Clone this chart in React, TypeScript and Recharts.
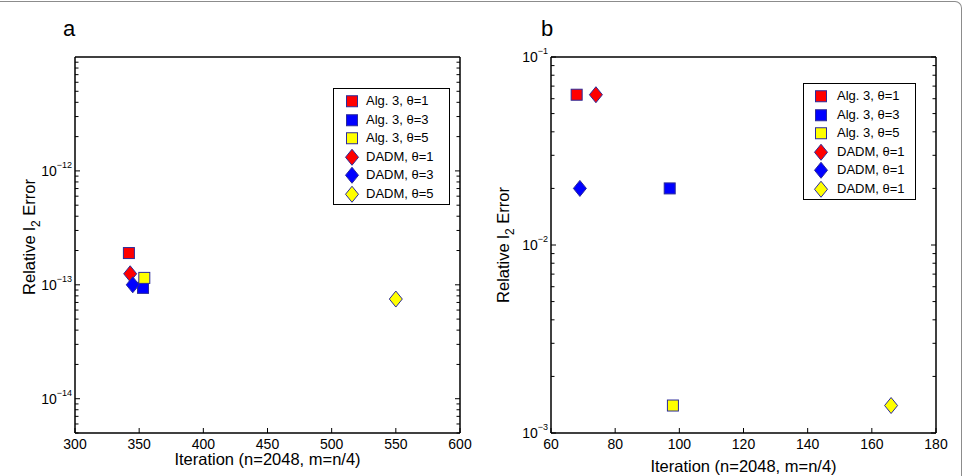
import { ScatterChart, Scatter, XAxis, YAxis, Legend } from 'recharts';

const FONT = '"Liberation Sans", Arial, Helvetica, sans-serif';
const EDGE = '#2b2b9a';

// (a) run lengths and errors
const namesA = ['Alg. 3, θ=1', 'Alg. 3, θ=3', 'Alg. 3, θ=5', 'DADM, θ=1', 'DADM, θ=3', 'DADM, θ=5'];
const iterationsA = [342, 353, 354, 343, 345, 550];
const errorsA = [1.9e-13, 9.4e-14, 1.15e-13, 1.25e-13, 1.0e-13, 7.5e-14];

// (b) run lengths and errors
const namesB = ['Alg. 3, θ=1', 'Alg. 3, θ=3', 'Alg. 3, θ=5', 'DADM, θ=1', 'DADM, θ=1', 'DADM, θ=1'];
const iterationsB = [68, 97, 98, 74, 69, 166];
const errorsB = [0.063, 0.02, 0.0014, 0.063, 0.02, 0.0014];

const fills = ['#ff0000', '#0000ff', '#ffff00', '#ff0000', '#0000ff', '#ffff00'];
const kinds = ['square', 'square', 'square', 'diamond', 'diamond', 'diamond'];

const xTicksA = [300, 350, 400, 450, 500, 550, 600];
const yMajorA = [1e-14, 1e-13, 1e-12];
const yExpA = ['−14', '−13', '−12'];
const xTicksB = [60, 80, 100, 120, 140, 160, 180];
const yMajorB = [1e-3, 1e-2, 1e-1];
const yExpB = ['−3', '−2', '−1'];

// major decades plus 2..9 minor ticks between them
function logTicks(lo: number, hi: number, majors: number[]) {
  const out: number[] = [...majors];
  for (let e = Math.floor(Math.log10(lo)); e < Math.ceil(Math.log10(hi)); e++) {
    for (let k = 2; k <= 9; k++) {
      const v = k * Math.pow(10, e);
      if (v > lo && v < hi) out.push(v);
    }
  }
  return out;
}

const Marker = ({ cx, cy, fill, kind }: any) =>
  kind === 'square' ? (
    <rect x={cx - 5.5} y={cy - 5.5} width={11} height={11} fill={fill} stroke={EDGE} strokeWidth={1} />
  ) : (
    <polygon
      points={`${cx},${cy - 8} ${cx + 6.5},${cy} ${cx},${cy + 8} ${cx - 6.5},${cy}`}
      fill={fill}
      stroke={EDGE}
      strokeWidth={1}
    />
  );

const BottomTick = ({ x, y, payload }: any) => (
  <g>
    <line x1={x} y1={y} x2={x} y2={y - 5} stroke="#000" />
    <text x={x} y={y + 15.5} textAnchor="middle" fontSize={14} fontFamily={FONT} fill="#000">
      {payload.value}
    </text>
  </g>
);

const TopTick = ({ x, y }: any) => <line x1={x} y1={y} x2={x} y2={y + 5} stroke="#000" />;

const makeLeftTick = (majors: number[], exps: string[]) => ({ x, y, payload }: any) => {
  const i = majors.indexOf(payload.value);
  return (
    <g>
      <line x1={x} y1={y} x2={x + (i >= 0 ? 5 : 3.5)} y2={y} stroke="#000" />
      {i >= 0 && (
        <text x={x - 3} y={y + 5} textAnchor="end" fontSize={14} fontFamily={FONT} fill="#000">
          10
          <tspan fontSize={9} dy={-8}>
            {exps[i]}
          </tspan>
        </text>
      )}
    </g>
  );
};

const makeRightTick = (majors: number[]) => ({ x, y, payload }: any) => (
  <line x1={x} y1={y} x2={x - (majors.includes(payload.value) ? 5 : 3.5)} y2={y} stroke="#000" />
);

const makeLegend = (names: string[], markerX: number, textX: number) => () => (
  <div
    style={{
      border: '1.5px solid #000',
      background: '#fff',
      paddingTop: 3,
      paddingBottom: 1,
      fontFamily: FONT,
      fontSize: 13,
      boxSizing: 'border-box',
    }}
  >
    {names.map((name, i) => (
      <div key={i} style={{ position: 'relative', height: 18.5, lineHeight: '18.5px' }}>
        <svg width={16} height={18} style={{ position: 'absolute', left: markerX - 8, top: 0 }}>
          <Marker cx={8} cy={9.25} fill={fills[i]} kind={kinds[i]} />
        </svg>
        <span style={{ position: 'absolute', left: textX, top: 0, whiteSpace: 'nowrap' }}>{name}</span>
      </div>
    ))}
  </div>
);

const yLabel = (cx: number, cy: number) => () => (
  <text
    transform={`translate(${cx},${cy}) rotate(-90)`}
    textAnchor="middle"
    fontSize={16.5}
    fontFamily={FONT}
    fill="#000"
  >
    Relative l
    <tspan fontSize={12} dy={5}>
      2
    </tspan>
    <tspan dy={-5}> Error</tspan>
  </text>
);

const xLabel = (cx: number, baseline: number) => () => (
  <text x={cx} y={baseline} textAnchor="middle" fontSize={16.5} fontFamily={FONT} fill="#000">
    Iteration (n=2048, m=n/4)
  </text>
);

interface PanelProps {
  left: number;
  letter: string;
  names: string[];
  iterations: number[];
  errors: number[];
  xTicks: number[];
  yMajor: number[];
  yExp: string[];
  yDomain: [number, number];
  leftWidth: number;
  rightWidth: number;
  legend: { left: number; top: number; width: number; height: number; markerX: number; textX: number };
  yLabelPos: [number, number];
  xLabelBaseline: number;
}

function Panel(p: PanelProps) {
  const yTicks = logTicks(p.yDomain[0], p.yDomain[1], p.yMajor);
  const xDomain: [number, number] = [p.xTicks[0], p.xTicks[p.xTicks.length - 1]];
  const axisLine = { stroke: '#000', strokeWidth: 1.5 };
  const plotW = 484 - p.leftWidth - p.rightWidth;
  return (
    <div style={{ position: 'absolute', left: p.left, top: 0, width: 484, height: 476 }}>
      <div
        style={{
          position: 'absolute',
          left: p.letter === 'a' ? 63 : 57,
          top: 18,
          fontFamily: FONT,
          fontSize: 22,
          lineHeight: '22px',
        }}
      >
        {p.letter}
      </div>
      <ScatterChart width={484} height={476} margin={{ top: 0, right: 0, bottom: 0, left: 0 }}>
        <XAxis
          xAxisId="bottom"
          dataKey="iteration"
          type="number"
          domain={xDomain}
          allowDataOverflow
          ticks={p.xTicks}
          interval={0}
          height={43}
          tickSize={0}
          tickMargin={0}
          tickLine={false}
          axisLine={axisLine}
          tick={BottomTick}
          label={{ content: xLabel(p.leftWidth + plotW / 2, 433 + p.xLabelBaseline) }}
        />
        <XAxis
          xAxisId="top"
          orientation="top"
          type="number"
          domain={xDomain}
          allowDataOverflow
          ticks={p.xTicks}
          interval={0}
          height={57}
          tickSize={0}
          tickMargin={0}
          tickLine={false}
          axisLine={axisLine}
          tick={TopTick}
        />
        <YAxis
          yAxisId="left"
          dataKey="error"
          type="number"
          scale="log"
          domain={p.yDomain}
          allowDataOverflow
          ticks={yTicks}
          interval={0}
          width={p.leftWidth}
          tickSize={0}
          tickMargin={0}
          tickLine={false}
          axisLine={axisLine}
          tick={makeLeftTick(p.yMajor, p.yExp)}
          label={{ content: yLabel(p.yLabelPos[0], p.yLabelPos[1]) }}
        />
        <YAxis
          yAxisId="right"
          orientation="right"
          type="number"
          scale="log"
          domain={p.yDomain}
          allowDataOverflow
          ticks={yTicks}
          interval={0}
          width={p.rightWidth}
          tickSize={0}
          tickMargin={0}
          tickLine={false}
          axisLine={axisLine}
          tick={makeRightTick(p.yMajor)}
        />
        {p.names.map((name, i) => (
          <Scatter
            key={i}
            name={name}
            xAxisId="bottom"
            yAxisId="left"
            data={[{ iteration: p.iterations[i], error: p.errors[i] }]}
            fill={fills[i]}
            isAnimationActive={false}
            shape={(s: any) => <Marker cx={s.cx} cy={s.cy} fill={fills[i]} kind={kinds[i]} />}
          />
        ))}
        <Legend
          layout="vertical"
          align="center"
          verticalAlign="middle"
          content={makeLegend(p.names, p.legend.markerX, p.legend.textX)}
          wrapperStyle={{
            left: p.legend.left,
            top: p.legend.top,
            width: p.legend.width,
            height: p.legend.height,
          }}
        />
      </ScatterChart>
    </div>
  );
}

export default function App() {
  return (
    <div
      style={{
        position: 'absolute',
        left: 0,
        top: 0,
        width: 968,
        height: 476,
        background: '#fff',
        overflow: 'hidden',
      }}
    >
      <div
        style={{
          position: 'absolute',
          left: -10,
          top: 1,
          width: 972,
          height: 520,
          borderTop: '1.5px solid #8c8c8c',
          borderRight: '1.5px solid #8c8c8c',
          borderTopRightRadius: 7,
          boxSizing: 'border-box',
        }}
      />
      <Panel
        left={0}
        letter="a"
        names={namesA}
        iterations={iterationsA}
        errors={errorsA}
        xTicks={xTicksA}
        yMajor={yMajorA}
        yExp={yExpA}
        yDomain={[5e-15, 1e-11]}
        leftWidth={75}
        rightWidth={24}
        legend={{ left: 333, top: 88, width: 117, height: 115, markerX: 18, textX: 32 }}
        yLabelPos={[35, 237]}
        xLabelBaseline={32}
      />
      <Panel
        left={484}
        letter="b"
        names={namesB}
        iterations={iterationsB}
        errors={errorsB}
        xTicks={xTicksB}
        yMajor={yMajorB}
        yExp={yExpB}
        yDomain={[1e-3, 1e-1]}
        leftWidth={67}
        rightWidth={32}
        legend={{ left: 319, top: 83, width: 113, height: 116, markerX: 17, textX: 33 }}
        yLabelPos={[25, 245]}
        xLabelBaseline={39}
      />
    </div>
  );
}
